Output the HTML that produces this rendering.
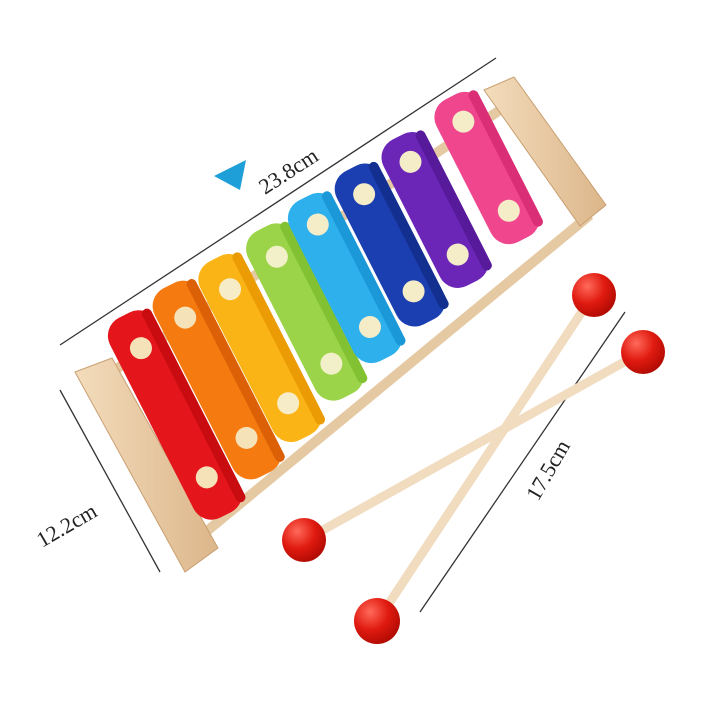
<!DOCTYPE html>
<html><head><meta charset="utf-8"><style>
html,body{margin:0;padding:0;background:#fff}
svg{display:block}
text{font-family:"Liberation Serif",serif;fill:#222}
</style></head><body>
<svg width="720" height="720" viewBox="0 0 720 720" xmlns="http://www.w3.org/2000/svg">
<defs>
<linearGradient id="wood" x1="0" y1="0" x2="1" y2="0">
<stop offset="0" stop-color="#f3dcbc"/><stop offset="1" stop-color="#dcb68a"/></linearGradient>
<radialGradient id="ball" cx="0.35" cy="0.3" r="0.8">
<stop offset="0" stop-color="#ff6a5a"/><stop offset="0.5" stop-color="#e01a10"/><stop offset="1" stop-color="#a80800"/></radialGradient>
</defs>
<line x1="60" y1="345" x2="496" y2="58" stroke="#333" stroke-width="1.3"/>
<line x1="60" y1="390" x2="160" y2="572" stroke="#333" stroke-width="1.3"/>
<line x1="625" y1="312" x2="420" y2="612" stroke="#333" stroke-width="1.3"/>
<polygon points="214,176 246,160 240,190" fill="#1f9fd8"/>
<text transform="translate(265,195) rotate(-33)" font-size="22">23.8cm</text>
<text transform="translate(42,548) rotate(-30)" font-size="22">12.2cm</text>
<text transform="translate(538,502) rotate(-60)" font-size="22">17.5cm</text>

<line x1="100" y1="380" x2="500" y2="110" stroke="#e5c9a3" stroke-width="10"/>
<line x1="190" y1="545" x2="590" y2="215" stroke="#e5c9a3" stroke-width="10"/>
<polygon points="75,372 112,358 218,548 185,572" fill="url(#wood)" stroke="#c99f70" stroke-width="1"/>
<polygon points="484,90 514,77 606,205 580,226" fill="url(#wood)" stroke="#c99f70" stroke-width="1"/>

<g>
<g transform="translate(175,415) rotate(-27)"><rect x="-26" y="-112" width="52" height="224" rx="20" fill="#e4161c"/><rect x="16" y="-108" width="10" height="216" rx="5" fill="#c80c10"/><circle cx="0" cy="-75" r="11" fill="#f5e2b8"/><circle cx="0" cy="70" r="11" fill="#f5e2b8"/></g>
<g transform="translate(217,380) rotate(-27)"><rect x="-26" y="-106" width="52" height="212" rx="20" fill="#f57a10"/><rect x="16" y="-102" width="10" height="204" rx="5" fill="#dc6005"/><circle cx="0" cy="-70" r="11" fill="#f5e2b8"/><circle cx="0" cy="65" r="11" fill="#f5e2b8"/></g>
<g transform="translate(260,348) rotate(-27)"><rect x="-26" y="-100" width="52" height="200" rx="20" fill="#fbb416"/><rect x="16" y="-96" width="10" height="192" rx="5" fill="#eb9c05"/><circle cx="0" cy="-66" r="11" fill="#f7ecc8"/><circle cx="0" cy="62" r="11" fill="#f7ecc8"/></g>
<g transform="translate(305,312) rotate(-27)"><rect x="-26" y="-94" width="52" height="188" rx="20" fill="#9bd448"/><rect x="16" y="-90" width="10" height="180" rx="5" fill="#82c232"/><circle cx="0" cy="-62" r="11" fill="#f2f0c8"/><circle cx="0" cy="58" r="11" fill="#f2f0c8"/></g>
<g transform="translate(345,278) rotate(-27)"><rect x="-26" y="-90" width="52" height="180" rx="20" fill="#2db0ec"/><rect x="16" y="-86" width="10" height="172" rx="5" fill="#1a98d8"/><circle cx="0" cy="-60" r="11" fill="#f5ecc8"/><circle cx="0" cy="55" r="11" fill="#f5ecc8"/></g>
<g transform="translate(390,245) rotate(-27)"><rect x="-26" y="-86" width="52" height="172" rx="20" fill="#1b3fb0"/><rect x="16" y="-82" width="10" height="164" rx="5" fill="#133090"/><circle cx="0" cy="-57" r="11" fill="#f5ecc8"/><circle cx="0" cy="52" r="11" fill="#f5ecc8"/></g>
<g transform="translate(435,210) rotate(-27)"><rect x="-26" y="-82" width="52" height="164" rx="20" fill="#6b26b8"/><rect x="16" y="-78" width="10" height="156" rx="5" fill="#561a9a"/><circle cx="0" cy="-54" r="11" fill="#f5ecc8"/><circle cx="0" cy="50" r="11" fill="#f5ecc8"/></g>
<g transform="translate(487,168) rotate(-27)"><rect x="-26" y="-80" width="52" height="160" rx="20" fill="#f0468e"/><rect x="16" y="-76" width="10" height="152" rx="5" fill="#da2e76"/><circle cx="0" cy="-52" r="11" fill="#f5ecc8"/><circle cx="0" cy="48" r="11" fill="#f5ecc8"/></g>
</g>

<line x1="642" y1="352" x2="305" y2="540" stroke="#f1dcc0" stroke-width="9"/>
<line x1="593" y1="295" x2="378" y2="620" stroke="#f1dcc0" stroke-width="9"/>
<circle cx="594" cy="295" r="22" fill="url(#ball)"/>
<circle cx="643" cy="352" r="22" fill="url(#ball)"/>
<circle cx="304" cy="540" r="22" fill="url(#ball)"/>
<circle cx="377" cy="621" r="23" fill="url(#ball)"/>
</svg>
</body></html>
